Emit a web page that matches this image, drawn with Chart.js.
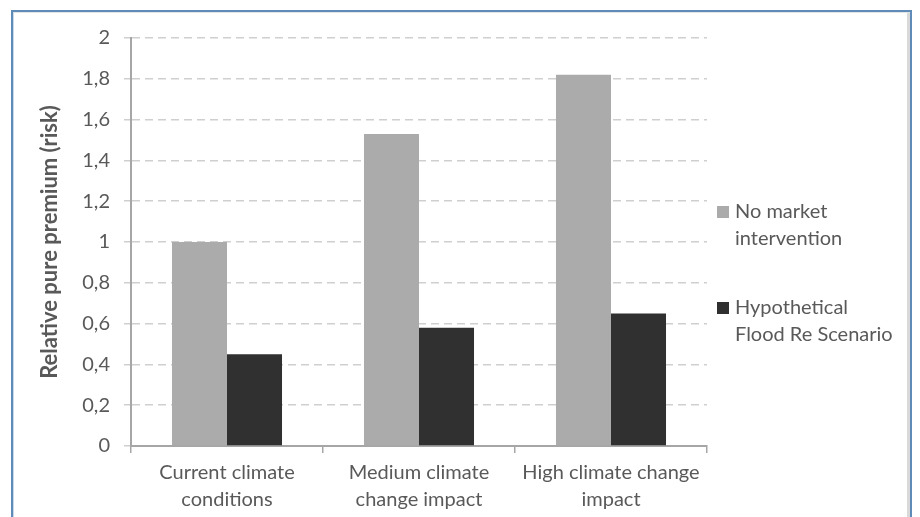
<!DOCTYPE html>
<html>
<head>
<meta charset="utf-8">
<script src="https://cdn.jsdelivr.net/npm/chart.js@4"></script>
<style>
  html, body { margin: 0; padding: 0; background: #ffffff; }
  #wrap { position: relative; width: 920px; height: 517px; overflow: hidden; }
  #frame { position: absolute; left: 11px; top: 10px; width: 901px; height: 540px;
           border: 2px solid #5f8bb8; box-shadow: inset 1px 1px 0 #c9dbeb; box-sizing: border-box; }
  #edge { position: absolute; left: 907px; top: 13px; width: 3px; height: 520px; background: #d9d9d9; }
  #edgeTop { position: absolute; left: 14px; top: 12px; width: 896px; height: 1px; background: #e4e4e4; }
  canvas { position: absolute; left: 0; top: 0; }
</style>
</head>
<body>
<div id="wrap">
  <div id="frame"></div>
  <div id="edgeTop"></div>
  <div id="edge"></div>
  <canvas id="c" width="920" height="517"></canvas>
</div>
<script>
// Scenarios on the x axis (one line per entry)
const categories = [
  ["Current climate", "conditions"],
  ["Medium climate", "change impact"],
  ["High climate change", "impact"]
];
// Relative pure premium per scenario
const noIntervention = [1.0, 1.53, 1.82];
const floodRe = [0.45, 0.58, 0.65];
const seriesNames = ["No market intervention", "Hypothetical Flood Re Scenario"];
const legendLines = [["No market", "intervention"], ["Hypothetical", "Flood Re Scenario"]];
const yTicks = [0, 0.2, 0.4, 0.6, 0.8, 1, 1.2, 1.4, 1.6, 1.8, 2];
const yTitle = "Relative pure premium (risk)";

const FONT = "Lato, 'Open Sans', sans-serif";
const TEXT = "#595959";

const PAD_LEFT = 37, AXIS_X = 131, PLOT_TOP = 38, PLOT_BOTTOM = 446, PLOT_RIGHT = 707;

// Legend on the right, items stacked with wrapped text
const sideLegend = {
  id: "sideLegend",
  afterDraw(chart) {
    const ctx = chart.ctx;
    ctx.save();
    ctx.font = "20px " + FONT;
    ctx.textBaseline = "middle";
    ctx.textAlign = "left";
    const startY = [212, 308];
    chart.data.datasets.forEach((ds, i) => {
      const y = startY[i];
      ctx.fillStyle = ds.backgroundColor;
      ctx.fillRect(717, y - 6, 12, 12);
      ctx.fillStyle = TEXT;
      legendLines[i].forEach((line, j) => ctx.fillText(line, 735, y + j * 27));
    });
    ctx.restore();
  }
};

new Chart(document.getElementById("c"), {
  type: "bar",
  data: {
    labels: categories,
    datasets: [
      { label: seriesNames[0], data: noIntervention, backgroundColor: "#ababab", borderWidth: 0 },
      { label: seriesNames[1], data: floodRe, backgroundColor: "#303030", borderWidth: 0 }
    ]
  },
  options: {
    responsive: false,
    animation: false,
    devicePixelRatio: 1,
    layout: { padding: { left: PAD_LEFT, right: 920 - PLOT_RIGHT, top: PLOT_TOP, bottom: 0 } },
    datasets: { bar: { categoryPercentage: 0.573, barPercentage: 1.0 } },
    plugins: { legend: { display: false }, tooltip: { enabled: false } },
    scales: {
      x: {
        grid: { display: true, drawOnChartArea: false, drawTicks: true, tickLength: 7, color: "#a6a6a6", lineWidth: 1.5 },
        border: { display: true, color: "#a6a6a6", width: 2 },
        ticks: { color: TEXT, font: { family: FONT, size: 20, lineHeight: 1.35 }, padding: 6, maxRotation: 0 },
        afterFit(scale) { scale.height = 517 - PLOT_BOTTOM; }
      },
      y: {
        min: 0, max: 2,
        afterBuildTicks(scale) { scale.ticks = yTicks.map(v => ({ value: v })); },
        grid: { color: "#cfcfcf", lineWidth: 1.5, tickLength: 7, drawTicks: true },
        border: { display: true, color: "#a6a6a6", width: 2, dash: [8, 5] },
        ticks: {
          color: TEXT, font: { family: FONT, size: 20 }, padding: 14,
          callback: v => String(Math.round(v * 10) / 10).replace(".", ",")
        },
        title: { display: true, text: yTitle, color: TEXT, font: { family: FONT, size: 22, weight: "bold" }, padding: 0 },
        afterFit(scale) { scale.width = AXIS_X - PAD_LEFT; }
      }
    }
  },
  plugins: [sideLegend]
});
</script>
</body>
</html>
